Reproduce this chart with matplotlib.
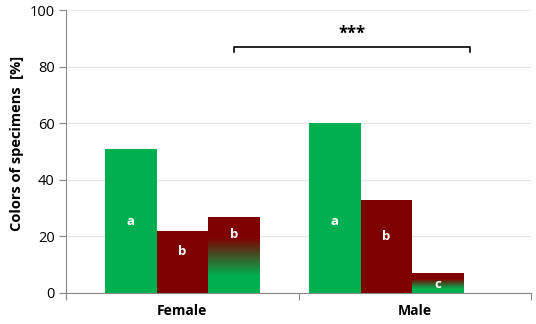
import numpy as np
import matplotlib.pyplot as plt
from matplotlib.colors import LinearSegmentedColormap

# data
groups = ['Female', 'Male']
female = [51, 22, 27]
male = [60, 33, 7]
female_letters = ['a', 'b', 'b']
male_letters = ['a', 'b', 'c']
female_letter_y = [25.4, 14.8, 20.5]
male_letter_y = [25.4, 20.0, 2.8]
signif = '***'

GREEN = '#00B050'
RED = '#7F0000'

plt.rcParams['font.family'] = ['Open Sans', 'DejaVu Sans']

fig = plt.figure(figsize=(5.36, 3.24), dpi=100)
ax = fig.add_axes([0.123, 0.096, 0.868, 0.873])

width = 0.222
starts = [0.168, 1.045]  # left edge of each group's first bar
grad = LinearSegmentedColormap.from_list('gr', [(0, GREEN), (0.22, GREEN), (0.72, RED), (1, RED)])

for g, (vals, letters, ly) in enumerate([(female, female_letters, female_letter_y),
                                          (male, male_letters, male_letter_y)]):
    x0 = starts[g]
    for i, v in enumerate(vals):
        left = x0 + i * width
        if i == 0:
            ax.bar(left, v, width, align='edge', color=GREEN, zorder=3)
        elif i == 1:
            ax.bar(left, v, width, align='edge', color=RED, zorder=3)
        else:
            b = ax.bar(left, v, width, align='edge', color='none', zorder=3)[0]
            img = np.linspace(1, 0, 200).reshape(-1, 1)
            im = ax.imshow(img, cmap=grad, vmin=0, vmax=1, aspect='auto',
                           extent=[left, left + width, 0, v], zorder=3)
            im.set_clip_path(b)
        ax.text(left + width / 2, ly[i], letters[i], color='white', fontweight='bold',
                fontsize=9.5, ha='center', va='center', zorder=4)

# significance bracket
bx0, bx1, by = 0.723, 1.739, 87
ax.plot([bx0, bx0, bx1, bx1], [by - 2, by, by, by - 2], color='black', lw=1.2, zorder=4)
ax.text((bx0 + bx1) / 2, by + 1.5, signif, ha='center', va='bottom', fontsize=12, fontweight='bold')

ax.set_xlim(0, 2)
ax.set_ylim(0, 100)
ax.set_yticks(range(0, 101, 20))
ax.set_xticks([0, 1, 2])
ax.set_xticklabels([])
ax.set_xticks([0.5, 1.5], minor=True)
ax.set_xticklabels(groups, minor=True, fontweight='bold', fontsize=10)
ax.tick_params(axis='x', which='minor', length=0, pad=8)
ax.tick_params(axis='x', which='major', length=5, color='#888888')
ax.tick_params(axis='y', length=5, color='#888888', labelsize=10.5, pad=3)
ax.grid(axis='y', color='#E8E8E8', lw=1, zorder=0)
ax.set_axisbelow(True)
for s in ['top', 'right']:
    ax.spines[s].set_visible(False)
for s in ['left', 'bottom']:
    ax.spines[s].set_color('#888888')
ax.set_ylabel('Colors of specimens  [%]', fontweight='bold', fontsize=10.5)
ax.yaxis.set_label_coords(-0.09, 0.53)

fig.savefig('out.png', dpi=100)
